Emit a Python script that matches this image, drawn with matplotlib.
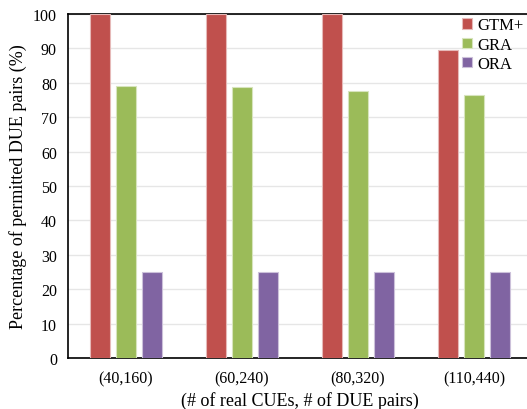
import numpy as np
import matplotlib
matplotlib.use("Agg")
import matplotlib.pyplot as plt

plt.rcParams['font.family'] = ['Liberation Serif', 'DejaVu Serif']

groups = ["(40,160)", "(60,240)", "(80,320)", "(110,440)"]
series_names = ["GTM+", "GRA", "ORA"]
gtm = [100, 100, 100, 89.5]
gra = [79.1, 78.8, 77.7, 76.5]
ora = [25, 25, 25, 25]
colors = ["#C0504D", "#9BBB59", "#8064A2"]
edges = ["#E6B9B8", "#D7E4BD", "#CCC1DA"]

fig = plt.figure(figsize=(5.27, 4.10), dpi=100)
ax = fig.add_axes([68 / 527, (410 - 359) / 410, (532 - 68) / 527, (359 - 15) / 410])

x = np.arange(len(groups))
width = 0.172
step = 0.224
for i, (vals, name) in enumerate(zip([gtm, gra, ora], series_names)):
    ax.bar(x + (i - 1) * step, vals, width, color=colors[i], edgecolor=edges[i],
           linewidth=0.8, label=name, zorder=3)

ax.set_xlim(-0.5, len(groups) - 0.5)
ax.set_ylim(0, 100)
ax.set_yticks(range(0, 101, 10))
ax.set_xticks(x)
ax.set_xticklabels(groups)
ax.tick_params(axis='both', length=0, labelsize=11.5, pad=9)
ax.tick_params(axis='y', pad=8)
ax.yaxis.grid(True, color='#E6E6E6', linewidth=1, zorder=0)
ax.set_axisbelow(True)
for s in ax.spines.values():
    s.set_linewidth(1.2)
ax.spines['right'].set_visible(False)

ax.set_ylabel("Percentage of permitted DUE pairs (%)", fontsize=13, labelpad=4)
ax.set_xlabel("(# of real CUEs, # of DUE pairs)", fontsize=13, labelpad=3)

ax.legend(loc='upper right', bbox_to_anchor=(1.0, (410 - 15) / 410),
          bbox_transform=fig.transFigure, frameon=False, fontsize=12,
          handlelength=0.6, handleheight=0.6, handletextpad=0.3, labelspacing=0.2,
          borderaxespad=0.0, borderpad=0.2)

fig.savefig("out.png", dpi=100)
